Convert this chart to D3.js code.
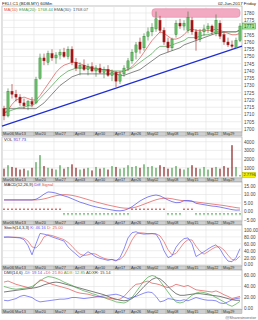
<!DOCTYPE html>
<html><head><meta charset="utf-8">
<script src="https://cdn.jsdelivr.net/npm/d3@7/dist/d3.min.js"></script>
<style>
body{margin:0;background:#fff}
svg{display:block;font-family:"Liberation Sans",Arial,sans-serif}
</style>
</head><body>
<svg id="chart" width="258" height="320"></svg>
<script>
// date labels on the grey bars and the bar index where each week starts
var dateLabels = ["Mar06","Mar13","Mar20","Mar27","Apr03","Apr10","Apr17","Apr26","May02","May08","May15","May22","May29"];
var dateIdx = [0,3,8,13,18,23,28,32,36,41,46,51,55];

var open  = [1714,1709,1726,1724,1722,1718,1716,1719,1718,1735,1749,1746,1752,1749,1751,1753,1750,1755,1746,1742,1744,1741,1743,1740,1742,1739,1741,1737,1739,1733,1738,1742,1747,1753,1760,1756,1764,1767,1769,1775,1768,1760,1756,1765,1773,1771,1768,1775,1767,1762,1767,1769,1771,1766,1773,1765,1760,1758,1756,1761];
var high  = [1716,1728,1731,1727,1724,1721,1720,1722,1736,1752,1752,1754,1755,1753,1755,1756,1757,1757,1749,1746,1748,1745,1746,1744,1745,1743,1744,1741,1740,1740,1744,1749,1755,1760,1763,1766,1770,1773,1781,1778,1770,1763,1763,1775,1776,1775,1781,1777,1769,1769,1772,1773,1772,1779,1775,1767,1763,1761,1763,1773];
var low   = [1706,1708,1721,1719,1716,1714,1713,1715,1717,1734,1744,1744,1747,1745,1748,1749,1748,1744,1740,1737,1740,1737,1739,1736,1738,1735,1736,1733,1729,1731,1736,1740,1745,1748,1752,1754,1761,1764,1767,1766,1758,1753,1754,1763,1769,1768,1766,1765,1754,1760,1764,1766,1765,1764,1762,1758,1756.5,1755.5,1756,1760];
var close = [1709,1726,1724,1722,1718,1716,1719,1717,1734,1749,1747,1752,1749,1751,1753,1750,1755,1746,1742,1744,1741,1743,1740,1742,1739,1741,1737,1739,1733,1738,1742,1747,1753,1758,1755,1764,1767,1770,1776,1768,1760,1756,1762,1773,1771,1773,1777,1767,1762,1767,1769,1771,1767,1775,1764,1760,1758,1757,1761,1771];

var ma10  = [1711,1713,1717,1720,1721,1722,1721,1720,1720,1723,1727,1731,1735,1739,1742,1744,1745,1746,1746,1745,1744,1743,1742,1742,1741,1741,1740,1740,1739,1739,1740,1741,1743,1746,1749,1753,1757,1761,1764,1767,1766,1764,1762,1762,1763,1765,1768,1769,1768,1768,1768,1768,1768,1769,1768,1767,1766,1765,1765,1766];
var ema20 = [1711,1712,1713,1714,1715,1715,1716,1716,1718,1721,1724,1727,1730,1733,1736,1738,1740,1741,1742,1742,1742,1742,1742,1741,1741,1741,1741,1740,1740,1740,1740,1741,1742,1744,1746,1748,1750,1752,1755,1757,1757,1757,1758,1759,1760,1761,1763,1763,1763,1764,1765,1765,1766,1767,1767,1767,1767,1767,1767,1768.44];
var ema30 = [1714,1714,1714,1714,1714,1714,1714,1714,1714,1716,1718,1721,1724,1727,1730,1732,1734,1736,1737,1738,1738,1738,1738,1738,1738,1738,1738,1738,1738,1737,1737,1738,1739,1740,1741,1743,1745,1747,1749,1751,1752,1753,1754,1755,1756,1758,1759,1760,1761,1762,1763,1764,1765,1766,1766,1767,1767,1767,1767,1768.07];

// trend line: price at the left and right edge of the plot
var trendVal = [1702, 1757.2];

var volume = [900,1300,1100,1000,800,900,700,1000,1650,2460,1200,1000,900,800,1300,900,1100,1400,1000,800,900,1000,700,1100,900,1000,800,1200,1100,900,1000,1300,1100,1200,1000,1400,1100,1200,1000,1300,1100,900,1000,1200,900,800,1000,1300,1000,900,1100,800,1000,1100,900,1200,1000,3600,1100,180];

var macdDiff = [6.8,6.8,6.8,6.8,6.8,6.8,6.8,6.8,7.2,8.5,10.2,11.5,11.3,10.8,10.0,9.2,8.5,7.5,6.5,5.5,4.8,4.0,3.3,2.7,2.2,1.7,1.3,0.9,0.5,0.4,0.7,1.5,2.8,4.5,6.2,7.5,8.6,9.3,9.7,9.2,8.0,6.8,5.8,5.2,5.3,6.4,6.5,6.2,4.8,4.4,4.0,3.6,3.2,3.0,2.6,2.1,1.6,1.1,0.8,0.9];
var macdSignal = [6.8,6.8,6.8,6.8,6.8,6.8,6.8,6.8,6.8,7.0,7.4,8.0,8.7,9.3,9.7,9.9,9.8,9.5,9.0,8.4,7.7,7.0,6.3,5.6,5.0,4.4,3.8,3.3,2.8,2.3,2.0,1.9,2.1,2.6,3.4,4.3,5.2,6.1,6.9,7.5,7.8,7.8,7.5,7.0,6.6,6.3,6.1,5.9,5.6,5.3,5.0,4.7,4.4,4.1,3.8,3.5,3.1,2.7,2.3,2.0];

var stochK = [80,80,79,78,77,72,55,28,60,90,88,85,80,76,72,68,51,40,30,20,28,37,30,22,18,15,12,15,10,20,45,77,92,95,90,88,89,90,88,70,40,20,25,50,65,75,77,60,23,30,37,45,52,57,45,25,10,8,20,46];
var stochD = [78,79,79,79,78,76,68,51,48,60,80,86,84,80,76,72,64,53,40,30,26,28,32,30,23,18,15,14,12,15,25,47,71,88,92,91,89,89,89,83,66,43,28,32,47,63,72,71,53,38,30,37,45,51,51,42,27,14,13,25];

var diMinus = [15,14,16,18,22,24,22,20,15,12,13,14,15,16,17,17,18,20,20,19,18,19,20,21,22,23,24,25,26,24,21,18,20,22,25,28,30,29,22,12,14,18,17,15,14,16,14,17,20,18,16,15,15,14,10,9,12,16,18,19];
var diPlus  = [48,50,47,44,42,40,38,37,45,52,50,47,44,42,40,38,36,33,30,28,27,26,24,22,21,20,19,18,16,17,22,30,38,44,45,48,50,46,45,43,40,38,40,44,42,40,42,38,34,33,32,31,30,32,29,25,22,18,20,22];
var adx     = [40,38,36,35,36,37,38,40,45,50,55,58,57,55,52,48,45,42,38,35,32,30,27,25,22,20,17,15,12,11,10,13,20,30,40,50,57,60,58,50,40,30,20,12,10,12,18,24,28,30,29,27,24,20,16,12,7,4,8,13];
var adxr    = [30,31,32,33,34,35,36,37,38,40,43,45,47,48,47,45,43,41,39,37,35,33,31,29,27,25,22,19,17,15,14,15,18,24,32,40,47,53,56,54,48,40,33,27,24,24,25,26,27,27,26,25,24,23,22,20,18,16,15,15];

var priceTicks = [1700,1705,1710,1715,1720,1725,1730,1735,1740,1745,1750,1755,1760,1765,1770,1775,1780];
var volTicks = [1000,2000,3000,4000];
var macdTicks = [-5,0,5,10,15];
var stochTicks = [0,20,40,60,80,100];
var dmiTicks = [0,20,40,60];

var svg = d3.select("#chart");
var plotL = 2, plotR = 242;
var downCol = "#a01818";
var gridCol = "#e2e2e2";

var x = d3.scaleBand().domain(d3.range(close.length)).range([plotL, plotR]);
function cx(i) { return x(i) + x.bandwidth() / 2; }

// panel boxes, grid and right labels
function drawPanel(top, bottom, y, ticks, fmt) {
  var g = svg.append("g");
  g.append("rect").attr("x", plotL).attr("y", top).attr("width", plotR - plotL).attr("height", bottom - top)
    .attr("fill", "#fff").attr("stroke", "#9a9a9a").attr("stroke-width", 0.6);
  g.selectAll(".hg").data(ticks).enter().append("line")
    .attr("x1", plotL).attr("x2", plotR).attr("y1", function(d) { return y(d); }).attr("y2", function(d) { return y(d); })
    .attr("stroke", gridCol).attr("stroke-width", 0.6);
  g.selectAll(".vg").data(dateIdx).enter().append("line")
    .attr("x1", function(d) { return x(d); }).attr("x2", function(d) { return x(d); })
    .attr("y1", top).attr("y2", bottom).attr("stroke", gridCol).attr("stroke-width", 0.6);
  var ax = d3.axisRight(y).tickValues(ticks).tickSize(0).tickPadding(2).tickFormat(fmt);
  var a = g.append("g").attr("transform", "translate(" + plotR + ",0)").call(ax);
  a.select(".domain").remove();
  a.selectAll("text").attr("font-size", 4.6).attr("fill", "#444").attr("font-family", "Liberation Sans, Arial, sans-serif");
  return a;
}

function dateBar(top) {
  var g = svg.append("g");
  g.append("rect").attr("x", plotL).attr("y", top).attr("width", plotR - plotL).attr("height", 4)
    .attr("fill", "#cfcfcf").attr("stroke", "#999").attr("stroke-width", 0.4);
  g.selectAll("line").data(dateIdx).enter().append("line")
    .attr("x1", function(d) { return x(d); }).attr("x2", function(d) { return x(d); })
    .attr("y1", top).attr("y2", top + 4).attr("stroke", "#888").attr("stroke-width", 0.4);
  g.selectAll("text").data(dateIdx).enter().append("text")
    .attr("x", function(d) { return x(d) + 1; }).attr("y", top + 3.4)
    .attr("font-size", 3.8).attr("fill", "#333")
    .text(function(d, k) { return dateLabels[k]; });
}

function legend(yPos, parts) {
  var t = svg.append("text").attr("x", plotL + 2).attr("y", yPos).attr("font-size", 4.2);
  parts.forEach(function(p) { t.append("tspan").attr("fill", p[1]).text(p[0] + " "); });
}

function line(y, vals, col) {
  svg.append("path").datum(vals)
    .attr("d", d3.line().x(function(d, i) { return cx(i); }).y(function(d) { return y(d); }))
    .attr("fill", "none").attr("stroke", col).attr("stroke-width", 0.7);
}

// title row
svg.append("text").attr("x", 2).attr("y", 4.5).attr("font-size", 4.4).attr("fill", "#222").text("FKLI.C1 (BDB.MY) 60Min");
svg.append("text").attr("x", 256).attr("y", 4.5).attr("font-size", 4.4).attr("fill", "#222").attr("text-anchor", "end").text("02-Jun-2017 Friday");

// main price panel
var yP = d3.scaleLinear().domain([1700, 1780]).range([129, 13]);
var priceAxis = drawPanel(6, 132, yP, priceTicks, d3.format("d"));

// resistance zone
svg.append("rect").attr("x", cx(37)).attr("y", yP(1783)).attr("width", cx(59) - cx(37)).attr("height", yP(1777) - yP(1783))
  .attr("rx", 3).attr("fill", "#f2a9c2").attr("stroke", "#e07a9c").attr("stroke-width", 0.5);

svg.append("line").attr("x1", plotL).attr("y1", yP(trendVal[0])).attr("x2", plotR).attr("y2", yP(trendVal[1]))
  .attr("stroke", "#1f2fd0").attr("stroke-width", 1.3);

line(yP, ema30, "#555555");
line(yP, ema20, "#49a049");
line(yP, ma10, "#e05050");

var candles = svg.append("g");
candles.selectAll("line").data(close).enter().append("line")
  .attr("x1", function(d, i) { return cx(i); }).attr("x2", function(d, i) { return cx(i); })
  .attr("y1", function(d, i) { return yP(high[i]); }).attr("y2", function(d, i) { return yP(low[i]); })
  .attr("stroke", function(d, i) { return d >= open[i] ? "#2a7a2a" : downCol; }).attr("stroke-width", 0.6);
candles.selectAll("rect").data(close).enter().append("rect")
  .attr("x", function(d, i) { return cx(i) - 1.1; }).attr("width", 2.2)
  .attr("y", function(d, i) { return yP(Math.max(d, open[i])); })
  .attr("height", function(d, i) { return Math.max(0.6, Math.abs(yP(d) - yP(open[i]))); })
  .attr("fill", function(d, i) { return d >= open[i] ? "#6cc26c" : downCol; })
  .attr("stroke", function(d, i) { return d >= open[i] ? "#2a7a2a" : downCol; }).attr("stroke-width", 0.4);

legend(10.5, [["MA(10)", "#e05050"], ["EMA(20): 1768.44", "#49a049"], ["EMA(30): 1768.07", "#555"]]);

// last price box, the axis label under it is hidden
var last = close[close.length - 1];
priceAxis.selectAll(".tick").filter(function(d) { return Math.abs(yP(d) - yP(last)) < 5; }).remove();
svg.append("rect").attr("x", 242.5).attr("y", yP(last) - 3).attr("width", 13).attr("height", 6)
  .attr("fill", "#a8e6a0").attr("stroke", "#3a9a3a").attr("stroke-width", 0.5);
svg.append("text").attr("x", 244).attr("y", yP(last) + 1.7).attr("font-size", 4.6).attr("fill", "#1a5a1a").text(d3.format("d")(last));

dateBar(132);

// volume panel
var yV = d3.scaleLinear().domain([0, 4000]).range([176.5, 141.7]);
drawPanel(137, 178, yV, volTicks, d3.format("d"));
svg.append("g").selectAll("rect").data(volume).enter().append("rect")
  .attr("x", function(d, i) { return cx(i) - 0.6; }).attr("width", 1.2)
  .attr("y", function(d) { return yV(d); }).attr("height", function(d) { return yV(0) - yV(d); })
  .attr("fill", function(d, i) { return close[i] >= open[i] ? "#4a9a4a" : "#8a2020"; });
legend(141, [["VOL", "#222"], ["917.73", "#3040d0"]]);
var lastVol = volume[volume.length - 1];
svg.append("rect").attr("x", 242.5).attr("y", yV(lastVol) - 2.6).attr("width", 13).attr("height", 5)
  .attr("fill", "#f4f000").attr("stroke", "#999900").attr("stroke-width", 0.4);
svg.append("text").attr("x", 243.5).attr("y", yV(lastVol) + 1.4).attr("font-size", 4).attr("fill", "#333").text("2.7796");

dateBar(178);

// MACD panel
var yM = d3.scaleLinear().domain([-5, 15]).range([220, 186]);
drawPanel(182, 221, yM, macdTicks, d3.format(".2f"));
line(yM, macdSignal, "#e05050");
line(yM, macdDiff, "#4a4ae8");
svg.append("g").selectAll("path").data(macdDiff).enter().append("path")
  .attr("d", function(d, i) {
    var up = d >= macdSignal[i], y0 = yM(0) + (up ? -2 : 2.2), px = cx(i);
    return up ? "M" + (px - 1) + "," + y0 + "h2M" + px + "," + y0 + "v-1.6"
              : "M" + (px - 1) + "," + y0 + "h2M" + px + "," + y0 + "v1.6";
  })
  .attr("stroke", function(d, i) { return d >= macdSignal[i] ? "#d02020" : "#2a9a2a"; })
  .attr("stroke-width", 0.6).attr("fill", "none");
legend(185.5, [["MACD(12,26,9)", "#222"], ["Diff", "#4a4ae8"], ["Signal", "#e05050"]]);

dateBar(221);

// Stochastic panel
var yS = d3.scaleLinear().domain([0, 100]).range([264.5, 230]);
drawPanel(225, 266, yS, stochTicks, d3.format(".2f"));
line(yS, stochD, "#e06060");
line(yS, stochK, "#5a5af0");
legend(229, [["Stoch(14,3,3)", "#222"], ["K: 46.16", "#5a5af0"], ["D: 25.00", "#e06060"]]);

dateBar(266);

// DMI panel
var yD = d3.scaleLinear().domain([0, 60]).range([308.5, 275.5]);
drawPanel(270, 309.5, yD, dmiTicks, d3.format(".2f"));
line(yD, adxr, "#444444");
line(yD, adx, "#4aa84a");
line(yD, diPlus, "#e05050");
line(yD, diMinus, "#5a5af0");
legend(274, [["DMI(14,6)", "#222"], ["-DI: 19.14", "#5a5af0"], ["+DI: 21.80", "#e05050"], ["ADX: 12.85", "#4aa84a"], ["ADXR: 15.14", "#444"]]);

dateBar(309.5);

svg.append("text").attr("x", 256).attr("y", 318.5).attr("font-size", 4).attr("fill", "#666")
  .attr("text-anchor", "end").text("@Sharesinvestor");
</script>
</body></html>
